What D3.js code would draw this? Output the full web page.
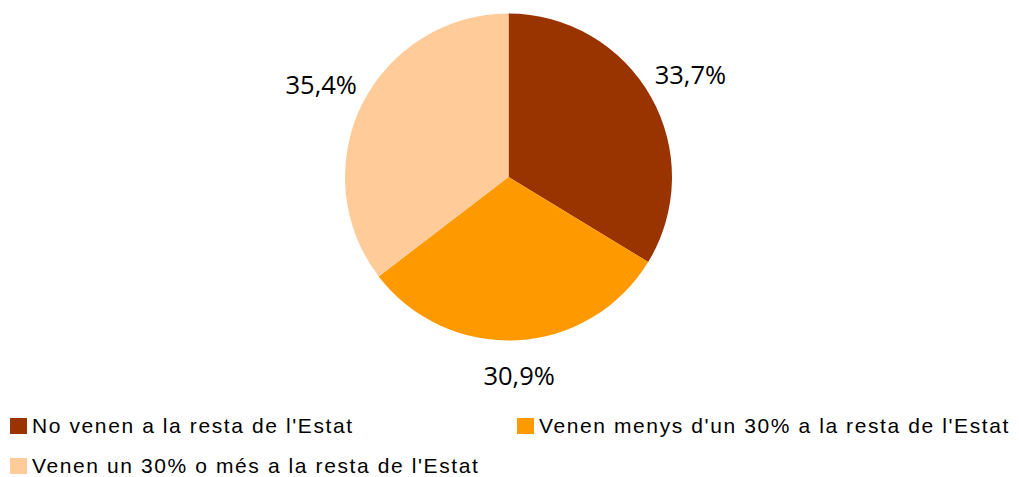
<!DOCTYPE html>
<html>
<head>
<meta charset="utf-8">
<script src="https://cdn.jsdelivr.net/npm/d3@7"></script>
<style>
  body { margin: 0; background: #fff; }
  svg { display: block; }
</style>
</head>
<body>
<svg id="chart" width="1019" height="477"></svg>
<script>
// data
var categories = ["No venen a la resta de l'Estat", "Venen menys d'un 30% a la resta de l'Estat", "Venen un 30% o més a la resta de l'Estat"];
var values = [33.7, 30.9, 35.4];
var labels = ["33,7%", "30,9%", "35,4%"];
var colours = ["#993300", "#FF9900", "#FFCC99"];

var svg = d3.select("#chart");
var cx = 508.5, cy = 177, radius = 163.5;

var pie = d3.pie().sort(null).value(function (d) { return d; });
var arcs = pie(values);

var arc = d3.arc().innerRadius(0).outerRadius(radius);

// labels sit further out when they are to the side (wide text)
function labelPos(d) {
  var a = (d.startAngle + d.endAngle) / 2;
  var r = 199 + 11 * Math.abs(Math.sin(a));
  return [r * Math.sin(a), -r * Math.cos(a)];
}

var g = svg.append("g").attr("transform", "translate(" + cx + "," + cy + ")");

g.selectAll("path")
  .data(arcs)
  .enter().append("path")
  .attr("d", arc)
  .attr("fill", function (d, i) { return colours[i]; });

g.selectAll("text")
  .data(arcs)
  .enter().append("text")
  .attr("transform", function (d) { return "translate(" + labelPos(d) + ")"; })
  .attr("text-anchor", "middle")
  .attr("dy", "0.36em")
  .style("font-family", "'Open Sans', 'Noto Sans', sans-serif")
  .style("font-size", "25.5px")
  .style("fill", "#000")
  .text(function (d, i) { return labels[i]; });

// legend
var legendPos = [[10, 418], [517, 418], [10, 458]];
var legend = svg.selectAll(".legend")
  .data(categories)
  .enter().append("g")
  .attr("class", "legend")
  .attr("transform", function (d, i) { return "translate(" + legendPos[i][0] + "," + legendPos[i][1] + ")"; });

legend.append("rect")
  .attr("width", 17)
  .attr("height", 16)
  .attr("fill", function (d, i) { return colours[i]; });

legend.append("text")
  .attr("x", 22)
  .attr("y", 15)
  .style("font-family", "'Liberation Sans', Arial, sans-serif")
  .style("font-size", "21px")
  .style("letter-spacing", "1.6px")
  .style("fill", "#000")
  .text(function (d) { return d; });
</script>
</body>
</html>
